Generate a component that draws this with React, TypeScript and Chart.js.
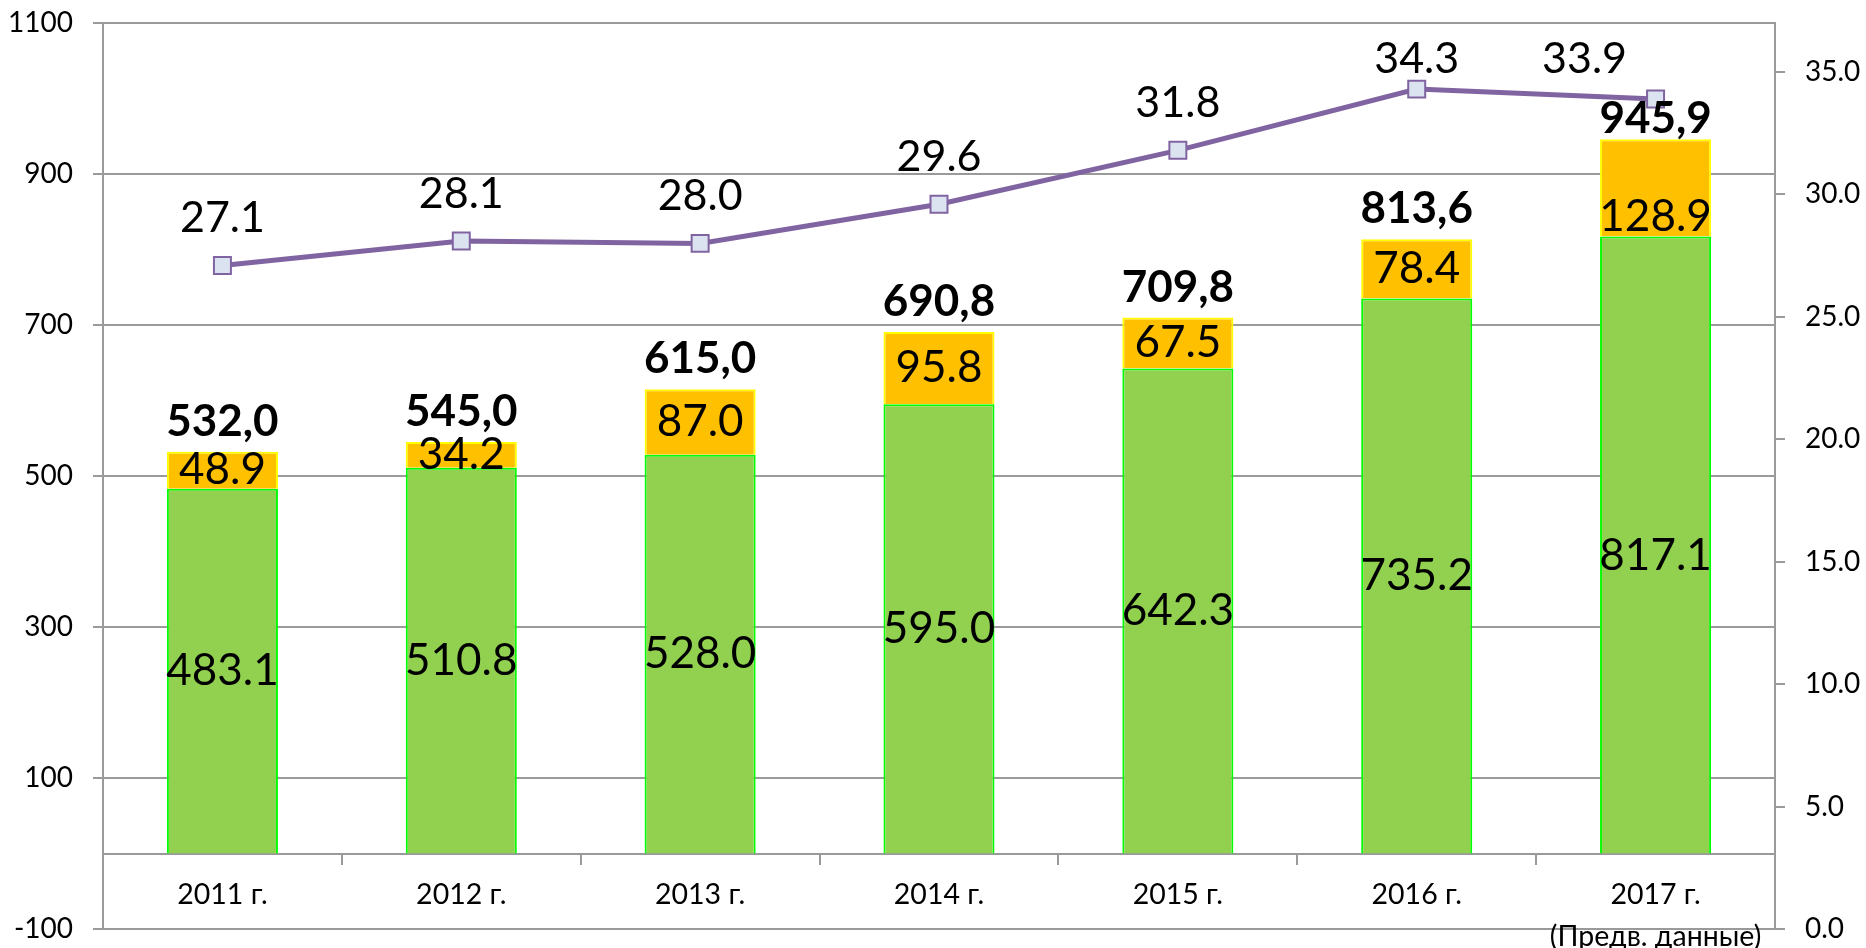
import React, { useEffect, useRef } from 'react';
import { Chart, registerables } from 'chart.js';

Chart.register(...registerables);

// ---- data ----
const yearLabels = ['2011 г.', '2012 г.', '2013 г.', '2014 г.', '2015 г.', '2016 г.', '2017 г.'];
const yearNotes = ['', '', '', '', '', '', '(Предв. данные)'];
const baseValues = [483.1, 510.8, 528.0, 595.0, 642.3, 735.2, 817.1];
const addValues = [48.9, 34.2, 87.0, 95.8, 67.5, 78.4, 128.9];
const totalLabels = ['532,0', '545,0', '615,0', '690,8', '709,8', '813,6', '945,9'];
const shareValues = [27.1, 28.1, 28.0, 29.6, 31.8, 34.3, 33.9];
const leftAxis = { min: -100, max: 1100, step: 200 };
const rightAxis = { min: 0, max: 37, step: 5 };

// ---- label placement tweaks (styles, not data) ----
const greenNudge = [0, 0, 0, 0, 0, 0, 11];
const orangeNudge = [0, 0, 0, 0, 0, 0, 29];
const totalGap = [30, 30, 30, 30, 30, 30, 20];
const lineLabelShiftX = [0, 0, 0, 0, 0, 0, -71];

const FONT = 'Lato';

const labelPlugin = {
  id: 'valueLabels',
  afterDatasetsDraw(chart: any) {
    const ctx = chart.ctx;
    const area = chart.chartArea;
    ctx.save();
    ctx.fillStyle = '#000';
    ctx.textAlign = 'center';
    ctx.textBaseline = 'middle';
    const greenMeta = chart.getDatasetMeta(0);
    const orangeMeta = chart.getDatasetMeta(1);
    const lineMeta = chart.getDatasetMeta(2);

    ctx.font = `44px ${FONT}`;
    greenMeta.data.forEach((el: any, i: number) => {
      const p = el.getProps(['x', 'y', 'base'], true);
      ctx.fillText(baseValues[i].toFixed(1), p.x, (p.y + p.base) / 2 + greenNudge[i]);
    });
    orangeMeta.data.forEach((el: any, i: number) => {
      const p = el.getProps(['x', 'y', 'base'], true);
      ctx.fillText(addValues[i].toFixed(1), p.x, (p.y + p.base) / 2 + orangeNudge[i]);
    });

    ctx.font = `bold 44px ${FONT}`;
    orangeMeta.data.forEach((el: any, i: number) => {
      const p = el.getProps(['x', 'y'], true);
      ctx.fillText(totalLabels[i], p.x, p.y - totalGap[i]);
    });

    ctx.font = `43px ${FONT}`;
    lineMeta.data.forEach((el: any, i: number) => {
      const p = el.getProps(['x', 'y'], true);
      const y = Math.max(p.y - 47, area.top + 36);
      ctx.fillText(shareValues[i].toFixed(1), p.x + lineLabelShiftX[i], y);
    });
    ctx.restore();
  },
};

export default function App() {
  const canvasRef = useRef<HTMLCanvasElement | null>(null);

  useEffect(() => {
    document.body.style.margin = '0';
    const canvas = canvasRef.current;
    if (!canvas) return;
    Chart.defaults.font.family = FONT;
    const labels = yearLabels.map((y, i) => (yearNotes[i] ? [y, yearNotes[i]] : y));
    const gridColor = '#9a9a9a';

    const chart = new Chart(canvas, {
      type: 'bar',
      data: {
        labels,
        datasets: [
          {
            type: 'bar',
            label: 'base',
            data: baseValues,
            backgroundColor: '#92D050',
            borderColor: '#00FF00',
            borderWidth: 2,
            stack: 's',
            yAxisID: 'y',
            order: 1,
            categoryPercentage: 1,
            barPercentage: 0.465,
          },
          {
            type: 'bar',
            label: 'add',
            data: addValues,
            backgroundColor: '#FFC000',
            borderColor: '#FFFF00',
            borderWidth: 2,
            stack: 's',
            yAxisID: 'y',
            order: 2,
            categoryPercentage: 1,
            barPercentage: 0.465,
          },
          {
            type: 'line',
            label: 'share',
            data: shareValues,
            yAxisID: 'y1',
            borderColor: '#8064A2',
            borderWidth: 5,
            pointStyle: 'rect',
            pointRadius: 12,
            pointBackgroundColor: '#DCE3F0',
            pointBorderColor: '#8064A2',
            pointBorderWidth: 2,
            tension: 0,
            order: 0,
          } as any,
        ],
      },
      options: {
        responsive: false,
        animation: false,
        devicePixelRatio: 1,
        layout: { padding: { top: 23, bottom: 19, left: 0, right: 0 } },
        plugins: {
          legend: { display: false },
          tooltip: { enabled: false },
        },
        scales: {
          x: {
            axis: 'x',
            type: 'category',
            position: { y: 0 } as any,
            stacked: true,
            offset: true,
            grid: {
              display: true,
              drawOnChartArea: false,
              drawTicks: true,
              tickLength: 10,
              color: gridColor,
              lineWidth: 2,
              offset: true,
            },
            border: { display: true, color: gridColor, width: 2 },
            ticks: {
              color: '#000',
              font: { family: FONT, size: 28.5, lineHeight: '42px' as any },
              padding: 10,
              maxRotation: 0,
              autoSkip: false,
            },
            afterFit: (scale: any) => {
              scale.height = 0;
              scale.paddingLeft = 0;
              scale.paddingRight = 0;
            },
          } as any,
          y: {
            type: 'linear',
            position: 'left',
            stacked: true,
            min: leftAxis.min,
            max: leftAxis.max,
            ticks: {
              stepSize: leftAxis.step,
              color: '#000',
              font: { family: FONT, size: 28 },
              padding: 20,
              callback: (v: any) => String(v),
            },
            grid: {
              color: gridColor,
              lineWidth: 2,
              drawTicks: true,
              tickLength: 10,
            },
            border: { display: true, color: gridColor, width: 2 },
            afterFit: (scale: any) => {
              scale.width = 103;
              scale.paddingTop = 0;
              scale.paddingBottom = 0;
            },
          },
          y1: {
            type: 'linear',
            position: 'right',
            min: rightAxis.min,
            max: rightAxis.max,
            ticks: {
              stepSize: rightAxis.step,
              color: '#000',
              font: { family: FONT, size: 28 },
              padding: 20,
              callback: (v: any) => Number(v).toFixed(1),
            },
            afterBuildTicks: (scale: any) => {
              scale.ticks = scale.ticks.filter((t: any) => t.value % rightAxis.step === 0);
            },
            grid: {
              drawOnChartArea: false,
              color: gridColor,
              lineWidth: 2,
              drawTicks: true,
              tickLength: 10,
            },
            border: { display: true, color: gridColor, width: 2 },
            afterFit: (scale: any) => {
              scale.width = 91;
              scale.paddingTop = 0;
              scale.paddingBottom = 0;
            },
          },
        },
      },
      plugins: [labelPlugin],
    });

    let alive = true;
    if ((document as any).fonts && (document as any).fonts.ready) {
      (document as any).fonts.ready.then(() => {
        if (alive) chart.update();
      });
    }

    return () => {
      alive = false;
      chart.destroy();
    };
  }, []);

  return (
    <div style={{ position: 'absolute', left: 0, top: 0, width: 1866, height: 948, background: '#fff' }}>
      <canvas ref={canvasRef} width={1866} height={948} style={{ display: 'block' }} />
    </div>
  );
}
